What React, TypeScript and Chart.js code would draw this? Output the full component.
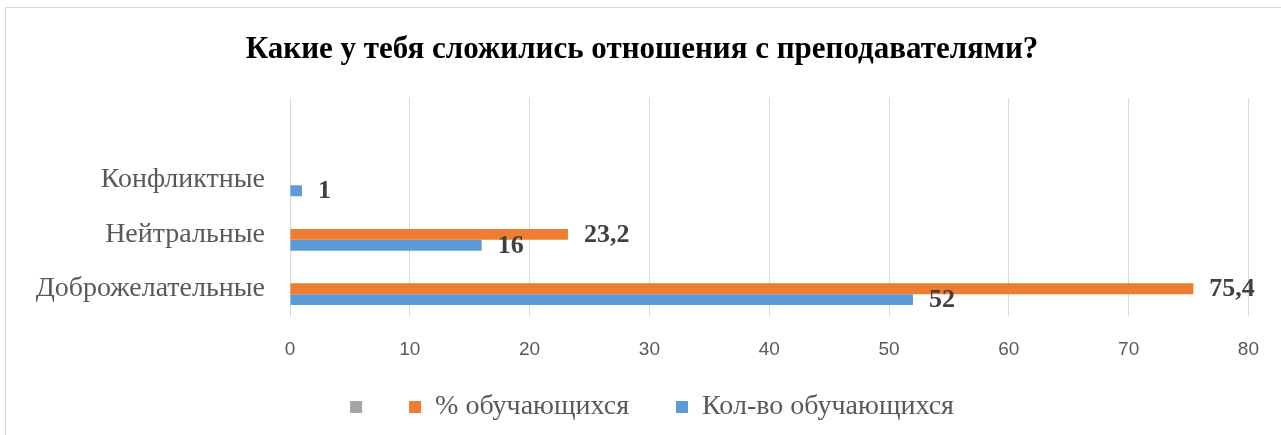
import React, { useEffect, useRef } from "react";
import { Chart, registerables } from "chart.js";

Chart.register(...registerables);

const titleText = "Какие у тебя сложились отношения с преподавателями?";
const categories = ["", "Конфликтные", "Нейтральные", "Доброжелательные"];
const seriesNames = [" ", "% обучающихся   ", "Кол-во обучающихся"];
const grayValues: (number | null)[] = [null, null, null, null];
const percentValues: (number | null)[] = [null, null, 23.2, 75.4];
const countValues: (number | null)[] = [null, 1, 16, 52];
const xTicks = [0, 10, 20, 30, 40, 50, 60, 70, 80];

const SERIF = "'Liberation Serif', 'Times New Roman', serif";
const SANS = "'Liberation Sans', Arial, sans-serif";

const dataLabels = {
  id: "dataLabels",
  afterDatasetsDraw(chart: any) {
    const ctx = chart.ctx;
    ctx.save();
    ctx.font = `bold 26px ${SERIF}`;
    ctx.fillStyle = "#404040";
    ctx.textBaseline = "middle";
    ctx.textAlign = "left";
    [1, 2].forEach((di) => {
      const meta = chart.getDatasetMeta(di);
      const data = chart.data.datasets[di].data;
      meta.data.forEach((el: any, i: number) => {
        const v = data[i];
        if (v === null || v === undefined) return;
        ctx.fillText(String(v).replace(".", ","), el.x + 16, el.y + 1);
      });
    });
    ctx.restore();
  },
};

const boxShift = {
  id: "boxShift",
  afterLayout(chart: any) {
    const lg = chart.legend;
    if (lg) {
      lg.left += 27;
      lg.right += 27;
    }
    const tb = chart.titleBlock;
    if (tb) {
      tb.left += 17;
      tb.right += 17;
    }
  },
};

export default function App() {
  const ref = useRef<HTMLCanvasElement>(null);
  useEffect(() => {
    if (!ref.current) return;
    const chart = new Chart(ref.current, {
      type: "bar",
      data: {
        labels: categories,
        datasets: [
          { label: seriesNames[0], data: grayValues, backgroundColor: "#a5a5a5" },
          { label: seriesNames[1], data: percentValues, backgroundColor: "#ed7d31" },
          { label: seriesNames[2], data: countValues, backgroundColor: "#5b9bd5" },
        ],
      },
      options: {
        indexAxis: "y",
        responsive: false,
        animation: false,
        datasets: { bar: { categoryPercentage: 0.6, barPercentage: 1.0 } },
        layout: { padding: { left: 0, right: 31, top: 0, bottom: 4 } },
        plugins: {
          tooltip: { enabled: false },
          title: {
            display: true,
            text: titleText,
            color: "#000000",
            font: { family: SERIF, size: 31, weight: "bold", lineHeight: 1.2 },
            padding: { top: 31, bottom: 30 },
          },
          legend: {
            position: "bottom",
            labels: {
              boxWidth: 12,
              boxHeight: 12,
              padding: 26,
              color: "#595959",
              font: { family: SERIF, size: 28 },
            },
          },
        },
        scales: {
          x: {
            min: 0,
            max: 80,
            afterBuildTicks: (s: any) => {
              s.ticks = xTicks.map((v) => ({ value: v }));
            },
            afterFit: (s: any) => {
              s.height = 51;
            },
            grid: { color: "#d9d9d9", drawTicks: false },
            border: { display: false },
            ticks: { color: "#595959", font: { family: SANS, size: 19 }, padding: 22 },
          },
          y: {
            afterFit: (s: any) => {
              s.width = 290;
            },
            grid: { display: false, drawTicks: false },
            border: { display: true, color: "#d9d9d9" },
            ticks: { color: "#595959", font: { family: SERIF, size: 28 }, padding: 25 },
          },
        },
      },
      plugins: [dataLabels, boxShift],
    } as any);
    return () => chart.destroy();
  }, []);
  return (
    <>
      <div
        style={{
          position: "fixed",
          left: 5,
          top: 7,
          width: 1276,
          height: 428,
          borderTop: "1px solid #d9d9d9",
          borderLeft: "1px solid #d9d9d9",
          pointerEvents: "none",
        }}
      />
      <canvas
        ref={ref}
        width={1281}
        height={435}
        style={{ position: "fixed", left: 0, top: 0, width: 1281, height: 435 }}
      />
    </>
  );
}
